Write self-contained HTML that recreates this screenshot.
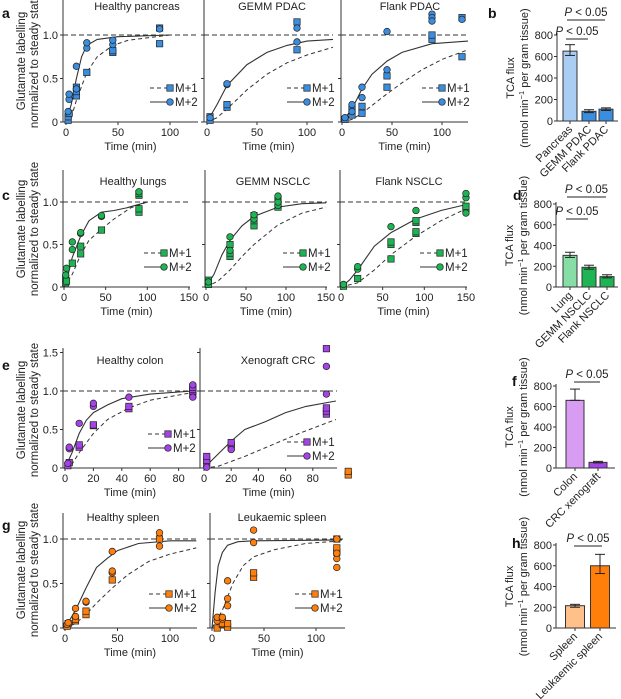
<!DOCTYPE html>
<html><head><meta charset="utf-8"><style>
html,body{margin:0;padding:0;background:#fff}
svg{display:block;font-family:"Liberation Sans",Arial,sans-serif}
</style></head><body>
<svg id="fig" width="621" height="699" viewBox="0 0 621 699"></svg>
<script>
// ---------- DATA ----------
const legendLabels = ["M+1","M+2"];
// Panel a
const pancM1=[[2,0.02],[2,0.06],[3,0.1],[10,0.3],[10,0.35],[10,0.4],[20,0.57],[45,0.8],[45,0.82],[90,0.9],[90,1.08]];
const pancM2=[[2,0.12],[3,0.26],[3,0.32],[10,0.38],[10,0.64],[20,0.85],[20,0.91],[45,0.89],[45,0.94],[90,1.07]];
const pancFit1=[[0,0],[5,0.05],[10,0.25],[20,0.57],[30,0.75],[45,0.88],[60,0.94],[100,1.0]];
const pancFit2=[[0,0],[5,0.2],[10,0.5],[15,0.75],[20,0.88],[30,0.95],[50,0.98],[100,1.0]];
const gpdacM1=[[3,0.02],[3,0.06],[20,0.17],[20,0.2],[90,0.83],[90,1.15]];
const gpdacM2=[[3,0.05],[20,0.43],[20,0.44],[90,0.92],[90,1.08]];
const gpdacFit1=[[0,0],[10,0.05],[20,0.15],[40,0.37],[60,0.55],[80,0.68],[100,0.77],[126,0.86]];
const gpdacFit2=[[0,0],[10,0.2],[20,0.42],[40,0.66],[60,0.8],[80,0.88],[100,0.93],[126,0.95]];
const fpdacM1=[[3,0.03],[10,0.08],[10,0.15],[20,0.1],[20,0.18],[45,0.4],[45,0.53],[90,0.95],[90,1.0],[120,1.2],[120,0.75]];
const fpdacM2=[[3,0.05],[10,0.2],[10,0.12],[20,0.4],[20,0.28],[45,1.04],[45,0.6],[90,1.24],[90,1.2],[90,1.16],[120,1.18]];
const fpdacFit1=[[0,0],[10,0.03],[20,0.1],[40,0.28],[60,0.45],[80,0.6],[100,0.72],[126,0.83]];
const fpdacFit2=[[0,0],[10,0.15],[20,0.38],[30,0.55],[45,0.7],[60,0.8],[90,0.9],[126,0.93]];
// Panel c
const lungM1=[[2,0.05],[2,0.1],[3,0.07],[10,0.28],[20,0.39],[20,0.48],[45,0.67],[90,0.88],[90,0.92],[90,1.08],[90,1.1]];
const lungM2=[[2,0.14],[3,0.22],[10,0.44],[10,0.53],[20,0.63],[20,0.64],[45,0.83],[45,0.84],[90,1.12]];
const lungFit1=[[0,0],[10,0.15],[20,0.38],[30,0.55],[45,0.68],[60,0.8],[80,0.93],[100,1.0]];
const lungFit2=[[0,0],[5,0.15],[10,0.35],[20,0.6],[30,0.78],[45,0.88],[60,0.9],[75,0.93],[100,1.0]];
const gnscM1=[[3,0.03],[3,0.08],[30,0.36],[30,0.4],[30,0.5],[60,0.72],[60,0.78],[60,0.84],[90,0.94],[90,0.97],[90,1.04]];
const gnscM2=[[3,0.06],[30,0.43],[30,0.59],[60,0.8],[60,0.85],[90,0.96],[90,1.0],[90,1.07]];
const gnscFit1=[[0,0],[15,0.07],[30,0.2],[45,0.36],[60,0.5],[90,0.73],[120,0.87],[150,0.94]];
const gnscFit2=[[0,0],[10,0.15],[20,0.38],[30,0.55],[45,0.72],[60,0.83],[90,0.94],[120,0.98],[150,0.99]];
const fnscM1=[[3,0.01],[20,0.1],[60,0.33],[60,0.5],[60,0.53],[90,0.63],[90,0.65],[90,0.76],[90,0.78],[150,0.92],[150,0.95]];
const fnscM2=[[3,0.03],[20,0.21],[20,0.24],[60,0.71],[90,0.9],[150,0.87],[150,1.05],[150,1.1]];
const fnscFit1=[[0,0],[20,0.05],[40,0.2],[60,0.38],[90,0.6],[120,0.78],[150,0.92]];
const fnscFit2=[[0,0],[10,0.08],[20,0.2],[40,0.48],[60,0.64],[90,0.8],[120,0.9],[150,0.97]];
// Panel e
const colonM1=[[2,0.03],[3,0.07],[10,0.27],[10,0.3],[20,0.55],[20,0.56],[45,0.77],[45,0.8],[90,0.95],[90,1.0],[90,1.02],[90,1.05]];
const colonM2=[[2,0.06],[3,0.25],[3,0.27],[10,0.58],[20,0.8],[20,0.84],[45,0.92],[90,0.92],[90,1.08]];
const colonFit1=[[0,0],[5,0.05],[10,0.2],[20,0.45],[30,0.63],[45,0.78],[60,0.88],[90,0.98]];
const colonFit2=[[0,0],[5,0.2],[10,0.45],[15,0.62],[20,0.72],[30,0.82],[40,0.9],[60,0.96],[90,1.0]];
const crcM1=[[2,0.06],[2,0.1],[2,0.15],[20,0.27],[20,0.3],[20,0.33],[90,0.7],[90,0.74],[90,0.78],[90,1.55]];
const crcM2=[[2,0.01],[20,0.24],[90,0.96],[90,1.32]];
const crcFit1=[[0,0],[10,0.02],[30,0.15],[50,0.3],[70,0.45],[97,0.63]];
const crcFit2=[[0,0],[20,0.35],[30,0.5],[45,0.6],[60,0.72],[75,0.8],[97,0.87]];
// Panel g
const splM1=[[2,0.02],[3,0.05],[10,0.08],[10,0.1],[20,0.15],[20,0.19],[45,0.54],[90,1.0]];
const splM2=[[2,0.04],[3,0.06],[10,0.13],[10,0.22],[20,0.29],[20,0.3],[45,0.62],[45,0.64],[45,0.86],[90,0.92],[90,1.07]];
const splFit1=[[0,0],[10,0.05],[20,0.15],[30,0.28],[45,0.45],[60,0.6],[80,0.75],[100,0.83],[125,0.9]];
const splFit2=[[0,0],[10,0.2],[20,0.45],[30,0.68],[40,0.78],[50,0.87],[70,0.95],[100,0.98],[125,0.98]];
const leukM1=[[5,0.0],[10,0.04],[10,0.05],[15,0.01],[15,0.05],[40,0.57],[40,0.62],[120,0.85],[120,0.9],[120,1.0],[131,1.72],[131,1.76]];
const leukM2=[[5,0.08],[5,0.12],[10,0.1],[10,0.12],[15,0.25],[15,0.33],[15,0.53],[40,0.96],[40,1.1],[120,0.68],[120,0.78],[120,0.84],[120,1.0]];
const leukFit1=[[0,0],[10,0.2],[20,0.5],[30,0.7],[40,0.8],[60,0.88],[90,0.95],[125,0.98]];
const leukFit2=[[0,0],[3,0.4],[6,0.7],[10,0.85],[15,0.93],[25,0.97],[40,0.98],[125,0.99]];
// Bar charts
const bCats=["Pancreas","GEMM PDAC","Flank PDAC"];
const bVals=[650,90,110];
const bErrHi=[710,105,122];
const bErrLo=[610,78,98];
const dCats=["Lung","GEMM NSCLC","Flank NSCLC"];
const dVals=[305,190,100];
const dErrHi=[335,210,118];
const dErrLo=[285,172,88];
const fCats=["Colon","CRC xenograft"];
const fVals=[660,55];
const fErrHi=[770,65];
const fErrLo=[660,50];
const hCats=["Spleen","Leukaemic spleen"];
const hVals=[215,600];
const hErrHi=[228,710];
const hErrLo=[200,525];
const barTicks=[0,200,400,600,800];

// ---------- DRAWING ----------
const NS="http://www.w3.org/2000/svg";
const svg=document.getElementById('fig');
const FS=11;
function mk(tag,attrs,parent,text){
  const e=document.createElementNS(NS,tag);
  for(const k in attrs)e.setAttribute(k,attrs[k]);
  if(text!==undefined)e.textContent=text;
  (parent||svg).appendChild(e);return e;
}
function group(name){
  const g=document.createElementNS(NS,'g');
  
  
  svg.appendChild(g);return g;
}
function marker(g,shape,x,y,fill){
  let e;
  if(shape==='sq'){e=mk('rect',{x:x-3.2,y:y-3.2,width:6.4,height:6.4,fill:fill,stroke:'#222','stroke-width':0.7},g);}
  else{e=mk('circle',{cx:x,cy:y,r:3.3,fill:fill,stroke:'#222','stroke-width':0.7},g);}
  return e;
}
function linePanel(o){
  const g=group(o.name);
  const X=t=>o.x0+t*o.kx, Y=v=>o.y0-v*o.ky;
  const ink='#333';
  mk('line',{x1:o.ax,y1:o.yTop,x2:o.ax,y2:o.y0,stroke:ink,'stroke-width':1},g);
  mk('line',{x1:o.ax,y1:o.y0,x2:o.xEnd,y2:o.y0,stroke:ink,'stroke-width':1},g);
  o.yt.forEach(v=>{
    mk('line',{x1:o.ax-3,y1:Y(v),x2:o.ax,y2:Y(v),stroke:ink,'stroke-width':1},g);
    if(o.ylab){const t=mk('text',{x:o.ax-5,y:Y(v)+4,'font-size':FS,'text-anchor':'end',fill:'#222'},g,v===0?'0':v.toFixed(1));
      }
  });
  o.xt.forEach(v=>{
    mk('line',{x1:X(v),y1:o.y0,x2:X(v),y2:o.y0+3,stroke:ink,'stroke-width':1},g);
    const t=mk('text',{x:X(v),y:o.y0+14,'font-size':FS,'text-anchor':'middle',fill:'#222'},g,String(v));
    
  });
  const xl=mk('text',{x:(o.ax+o.xEnd)/2,y:o.y0+28,'font-size':FS,'text-anchor':'middle',fill:'#222'},g,'Time (min)');
  
  const tt=mk('text',{x:o.tx,y:o.ty,'font-size':FS,'text-anchor':'middle',fill:'#222'},g,o.title);
  
  mk('line',{x1:o.ax,y1:Y(1),x2:o.xEnd,y2:Y(1),stroke:ink,'stroke-width':1,'stroke-dasharray':'5,3'},g);
  const path=arr=>arr.map((p,i)=>(i?'L':'M')+X(p[0]).toFixed(1)+','+Y(p[1]).toFixed(1)).join(' ');
  const f1=mk('path',{d:path(o.fit1),fill:'none',stroke:ink,'stroke-width':1,'stroke-dasharray':'4,3'},g);
  
  const f2=mk('path',{d:path(o.fit2),fill:'none',stroke:ink,'stroke-width':1.1},g);
  
  o.m1.forEach(p=>{const e=marker(g,'sq',X(p[0]),Y(p[1]),o.col);
    });
  o.m2.forEach(p=>{const e=marker(g,'ci',X(p[0]),Y(p[1]),o.col);
    });
  [0,1].forEach(i=>{
    const ly=o.ly+i*14;
    mk('line',{x1:o.lx-20,y1:ly,x2:o.lx,y2:ly,stroke:ink,'stroke-width':1,'stroke-dasharray':i?'none':'4,3'},g);
    const m=marker(g,i?'ci':'sq',o.lx,ly,o.col);
    
    const t=mk('text',{x:o.lx+5,y:ly+4,'font-size':11.5,fill:'#222'},g,legendLabels[i]);
    
  });
}
function barPanel(o){
  const g=group(o.name);
  const Y=v=>o.y0-v*o.ky;const ink='#333';
  mk('line',{x1:o.ax,y1:Y(800)-2,x2:o.ax,y2:o.y0,stroke:ink,'stroke-width':1},g);
  mk('line',{x1:o.ax,y1:o.y0,x2:o.xEnd,y2:o.y0,stroke:ink,'stroke-width':1},g);
  barTicks.forEach(v=>{
    mk('line',{x1:o.ax-3,y1:Y(v),x2:o.ax,y2:Y(v),stroke:ink,'stroke-width':1},g);
    const t=mk('text',{x:o.ax-4,y:Y(v)+4,'font-size':FS,'text-anchor':'end',fill:'#222'},g,String(v));
    
  });
  o.cats.forEach((c,i)=>{
    const cx=o.cx[i];
    const r=mk('rect',{x:cx-o.bw/2,y:Y(o.vals[i]),width:o.bw,height:o.vals[i]*o.ky,fill:o.cols[i],stroke:'#333','stroke-width':1},g);
    
    mk('line',{x1:cx,y1:Y(o.hi[i]),x2:cx,y2:Y(o.lo[i]),stroke:'#222','stroke-width':1},g);
    mk('line',{x1:cx-5,y1:Y(o.hi[i]),x2:cx+5,y2:Y(o.hi[i]),stroke:'#222','stroke-width':1},g);
    mk('line',{x1:cx-5,y1:Y(o.lo[i]),x2:cx+5,y2:Y(o.lo[i]),stroke:'#222','stroke-width':1},g);
    mk('line',{x1:cx,y1:o.y0,x2:cx,y2:o.y0+3,stroke:ink,'stroke-width':1},g);
    const t=mk('text',{x:cx+3,y:o.y0+9,'font-size':FS,'text-anchor':'end',fill:'#222',transform:`rotate(-45 ${cx+3} ${o.y0+9})`},g,c);
    
  });
  const mid=(o.y0+Y(800))/2;
  const t1=mk('text',{x:0,y:0,'font-size':FS,'text-anchor':'middle',fill:'#222',transform:`translate(${o.ax-43},${mid}) rotate(-90)`},g,'TCA flux');
  
  const t2=mk('text',{x:0,y:0,'font-size':FS,'text-anchor':'middle',fill:'#222',transform:`translate(${o.ax-29},${mid}) rotate(-90)`},g);
  t2.innerHTML='(nmol min<tspan dy="-4" font-size="7.5">−1</tspan><tspan dy="4"> per gram tissue)</tspan>';
  
  o.pv.forEach(p=>{
    mk('line',{x1:p[0],y1:p[2],x2:p[1],y2:p[2],stroke:'#222','stroke-width':1},g);
    const t=mk('text',{x:(p[0]+p[1])/2,y:p[2]-4,'font-size':11.5,'text-anchor':'middle',fill:'#222'},g);
    t.innerHTML='<tspan font-style="italic">P</tspan> &lt; 0.05';
    
  });
}
function rowYTitle(mid){
  const t=mk('text',{x:0,y:0,'font-size':11.5,'text-anchor':'middle',fill:'#222',transform:`translate(25,${mid}) rotate(-90)`},svg,'Glutamate labelling');
  
  const u=mk('text',{x:0,y:0,'font-size':11.5,'text-anchor':'middle',fill:'#222',transform:`translate(38,${mid}) rotate(-90)`},svg,'normalized to steady state');
  
}
function letter(ch,x,y){
  const t=mk('text',{x:x,y:y,'font-size':14,'font-weight':'bold',fill:'#111'},svg,ch);
  
}
const blue='#3b8de0',green='#1db453',purple='#a542e8',orange='#ff7f0a';
const yt=[0,0.5,1];
linePanel({name:'panel-healthy-pancreas',ax:63,x0:66,kx:1.04,xEnd:198,y0:122,ky:87,yTop:0,yt:yt,ylab:true,xt:[0,50,100],title:'Healthy pancreas',tx:137,ty:10,col:blue,m1:pancM1,m2:pancM2,fit1:pancFit1,fit2:pancFit2,lx:170,ly:88});
linePanel({name:'panel-gemm-pdac',ax:204,x0:207,kx:1.0,xEnd:333,y0:122,ky:87,yTop:0,yt:yt,ylab:false,xt:[0,50,100],title:'GEMM PDAC',tx:272,ty:10,col:blue,m1:gpdacM1,m2:gpdacM2,fit1:gpdacFit1,fit2:gpdacFit2,lx:307,ly:88});
linePanel({name:'panel-flank-pdac',ax:341,x0:342,kx:1.0,xEnd:468,y0:122,ky:87,yTop:0,yt:yt,ylab:false,xt:[0,50,100],title:'Flank PDAC',tx:410,ty:10,col:blue,m1:fpdacM1,m2:fpdacM2,fit1:fpdacFit1,fit2:fpdacFit2,lx:442,ly:88});
barPanel({name:'panel-b-tca-flux',ax:557,xEnd:618,y0:121,ky:86/800,cats:bCats,vals:bVals,hi:bErrHi,lo:bErrLo,cx:[570,589,606],bw:14,cols:['#a9cdf3',blue,blue],pv:[[567,605,20],[566,588,39]]});
linePanel({name:'panel-healthy-lungs',ax:63,x0:64,kx:0.833,xEnd:190,y0:287,ky:85,yTop:170,yt:yt,ylab:true,xt:[0,50,100,150],title:'Healthy lungs',tx:133,ty:185,col:green,m1:lungM1,m2:lungM2,fit1:lungFit1,fit2:lungFit2,lx:164,ly:253});
linePanel({name:'panel-gemm-nsclc',ax:205,x0:206,kx:0.8,xEnd:327,y0:287,ky:85,yTop:170,yt:yt,ylab:false,xt:[0,50,100,150],title:'GEMM NSCLC',tx:273,ty:185,col:green,m1:gnscM1,m2:gnscM2,fit1:gnscFit1,fit2:gnscFit2,lx:303,ly:253});
linePanel({name:'panel-flank-nsclc',ax:340,x0:341,kx:0.833,xEnd:467,y0:287,ky:85,yTop:170,yt:yt,ylab:false,xt:[0,50,100,150],title:'Flank NSCLC',tx:409,ty:185,col:green,m1:fnscM1,m2:fnscM2,fit1:fnscFit1,fit2:fnscFit2,lx:440,ly:253});
barPanel({name:'panel-d-tca-flux',ax:556,xEnd:618,y0:287,ky:83/800,cats:dCats,vals:dVals,hi:dErrHi,lo:dErrLo,cx:[570,589,607],bw:14,cols:['#86dea6',green,green],pv:[[567,606,197],[566,588,219]]});
linePanel({name:'panel-healthy-colon',ax:63,x0:65,kx:1.42,xEnd:197,y0:468,ky:77,yTop:348,yt:[0,0.5,1,1.5],ylab:true,xt:[0,20,40,60,80],title:'Healthy colon',tx:130,ty:364,col:purple,m1:colonM1,m2:colonM2,fit1:colonFit1,fit2:colonFit2,lx:168,ly:434});
linePanel({name:'panel-xenograft-crc',ax:200,x0:204,kx:1.36,xEnd:337,y0:468,ky:77,yTop:348,yt:[0,0.5,1,1.5],ylab:false,xt:[0,20,40,60,80],title:'Xenograft CRC',tx:278,ty:364,col:purple,m1:crcM1,m2:crcM2,fit1:crcFit1,fit2:crcFit2,lx:307,ly:442});
barPanel({name:'panel-f-tca-flux',ax:556,xEnd:615,y0:468,ky:82/800,cats:fCats,vals:fVals,hi:fErrHi,lo:fErrLo,cx:[575,598],bw:18,cols:['#d99cf3',purple],pv:[[574,600,382]]});
linePanel({name:'panel-healthy-spleen',ax:63,x0:65,kx:1.05,xEnd:197,y0:628,ky:89,yTop:513,yt:yt,ylab:true,xt:[0,50,100],title:'Healthy spleen',tx:123,ty:521,col:orange,m1:splM1,m2:splM2,fit1:splFit1,fit2:splFit2,lx:169,ly:594});
linePanel({name:'panel-leukaemic-spleen',ax:210,x0:212,kx:1.04,xEnd:345,y0:628,ky:89,yTop:513,yt:yt,ylab:false,xt:[0,50,100],title:'Leukaemic spleen',tx:282,ty:521,col:orange,m1:leukM1,m2:leukM2,fit1:leukFit1,fit2:leukFit2,lx:315,ly:594});
barPanel({name:'panel-h-tca-flux',ax:556,xEnd:616,y0:628,ky:83/800,cats:hCats,vals:hVals,hi:hErrHi,lo:hErrLo,cx:[575,600],bw:19,cols:['#ffc08a',orange],pv:[[574,602,546]]});
rowYTitle(61);rowYTitle(229);rowYTitle(410);rowYTitle(570);
letter('a',2,18);letter('b',488,18);letter('c',2,200);letter('d',513,200);
letter('e',2,370);letter('f',512,386);letter('g',2,530);letter('h',512,548);
</script>
</body></html>
